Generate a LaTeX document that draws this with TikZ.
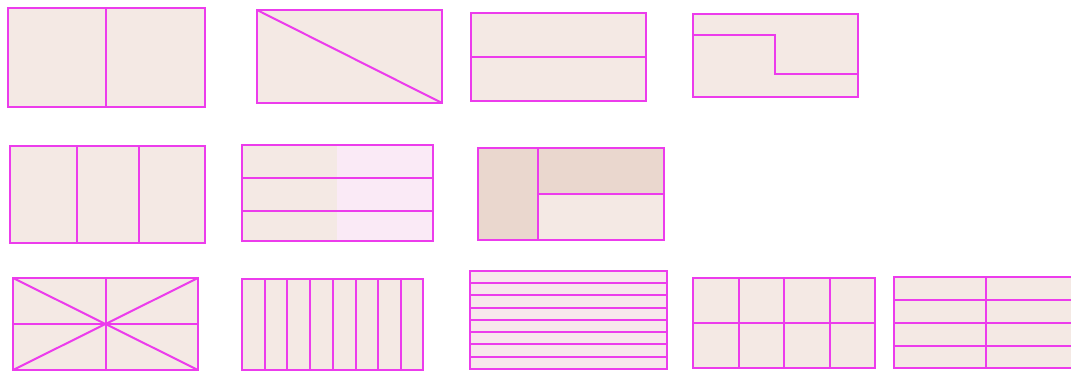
\documentclass[tikz,border=0pt]{standalone}
\definecolor{edge}{HTML}{EC3CEC}
\definecolor{paper}{HTML}{F4E9E4}
\definecolor{pinkish}{HTML}{FAEAF6}
\definecolor{stripe}{HTML}{F7E7EC}
\definecolor{tan}{HTML}{EAD7CE}
\begin{document}
\begin{tikzpicture}[x=0.75pt,y=-0.75pt,
  pane/.style={draw=edge,line width=1.6pt,fill=paper},
  frame/.style={draw=edge,line width=1.6pt},
  div/.style={draw=edge,line width=1.5pt}]
\useasboundingbox (0,0) rectangle (1071,373);
\clip (0,0) rectangle (1071,373);
% row 1
\draw[pane] (8,8) rectangle (205,107);
\draw[div] (106,8) -- (106,107);
\draw[pane] (257,10) rectangle (442,103);
\draw[div] (257,10) -- (442,103);
\draw[pane] (471,13) rectangle (646,101);
\draw[div] (471,57) -- (646,57);
\draw[pane] (693,14) rectangle (858,97);
\draw[div] (693,35) -- (775,35) -- (775,74) -- (858,74);
% row 2
\draw[pane] (10,146) rectangle (205,243);
\draw[div] (77,146) -- (77,243);
\draw[div] (139,146) -- (139,243);
\fill[paper] (242,145) rectangle (337,241);
\fill[pinkish] (337,145) rectangle (433,241);
\draw[frame] (242,145) rectangle (433,241);
\draw[div] (242,178) -- (433,178);
\draw[div] (242,211) -- (433,211);
\fill[tan] (478,148) rectangle (538,240);
\fill[tan] (538,148) rectangle (664,194);
\fill[paper] (538,194) rectangle (664,240);
\draw[frame] (478,148) rectangle (664,240);
\draw[div] (538,148) -- (538,240);
\draw[div] (538,194) -- (664,194);
% row 3
\draw[pane] (13,278) rectangle (198,370);
\draw[div] (106,278) -- (106,370);
\draw[div] (13,324) -- (198,324);
\draw[div] (13,278) -- (198,370);
\draw[div] (13,370) -- (198,278);
\draw[pane] (242,279) rectangle (423,370);
\foreach \xx in {265,287,310,333,356,378,401}
  \draw[div] (\xx,279) -- (\xx,370);
\draw[pane,fill=stripe] (470,271) rectangle (667,369);
\foreach \yy in {283,295,308,320,332,344,357}
  \draw[div] (470,\yy) -- (667,\yy);
\draw[pane] (693,278) rectangle (875,368);
\foreach \xx in {739,784,830}
  \draw[div] (\xx,278) -- (\xx,368);
\draw[div] (693,323) -- (875,323);
\draw[pane] (894,277) rectangle (1078,368);
\draw[div] (986,277) -- (986,368);
\foreach \yy in {300,323,346}
  \draw[div] (894,\yy) -- (1078,\yy);
\end{tikzpicture}
\end{document}
